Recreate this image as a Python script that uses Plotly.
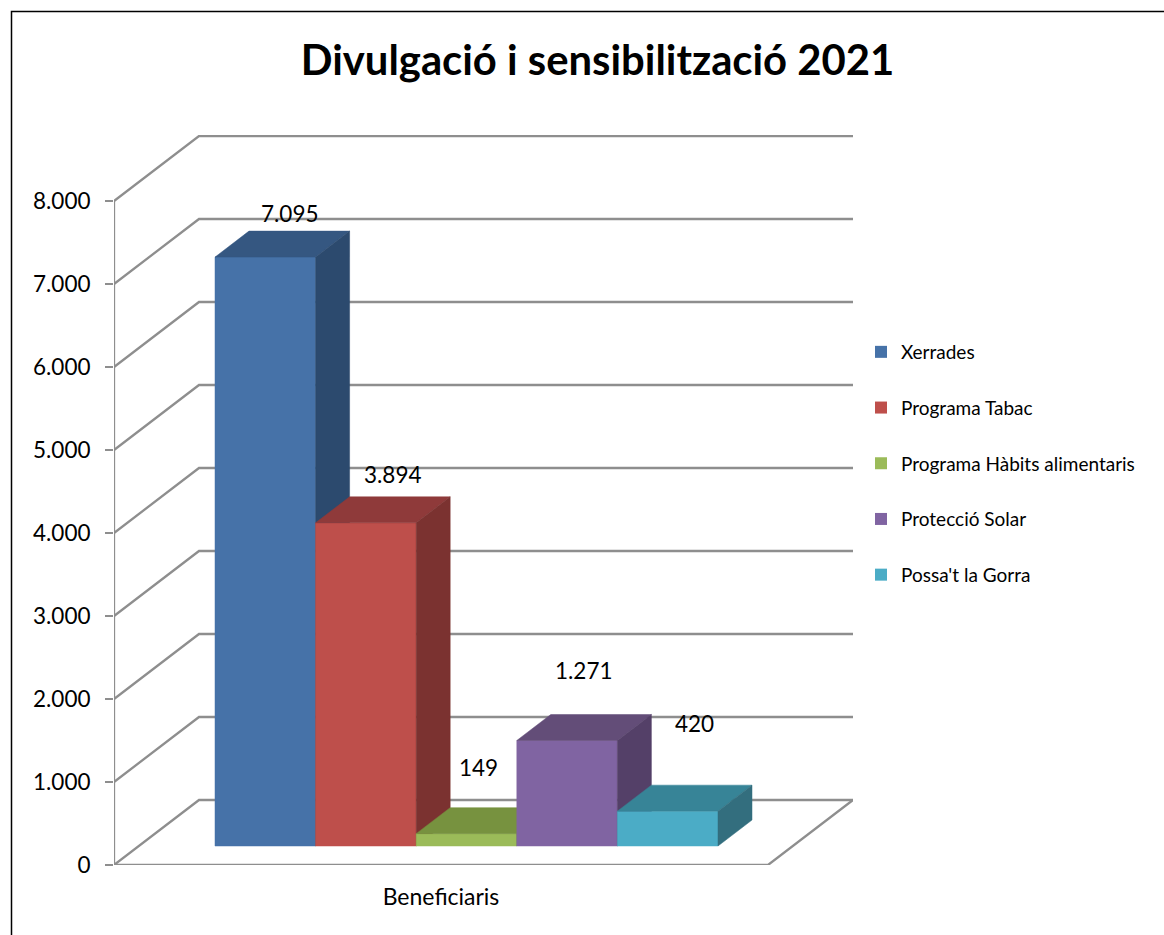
import plotly.graph_objects as go

# ---- data ----
title_text = "Divulgació i sensibilització 2021"
category = "Beneficiaris"
series_names = ["Xerrades", "Programa Tabac", "Programa Hàbits alimentaris", "Protecció Solar", "Possa't la Gorra"]
series_values = [7095, 3894, 149, 1271, 420]
value_labels = ["7.095", "3.894", "149", "1.271", "420"]
tick_values = [0, 1000, 2000, 3000, 4000, 5000, 6000, 7000, 8000]
tick_labels = ["0", "1.000", "2.000", "3.000", "4.000", "5.000", "6.000", "7.000", "8.000"]

# ---- style ----
front_colors = ["#4672A8", "#BE4F4B", "#9BBB59", "#8064A2", "#4BACC6"]
top_colors = ["#355781", "#8F3A3A", "#77923F", "#634D78", "#378497"]
side_colors = ["#2C4A6E", "#7B3230", "#66803A", "#544068", "#336E7E"]
label_shift = [(25, 44), (27, 48), (12, 66), (17, 70), (27, 88)]
GRID = "#8E8E8E"
FONT = "Lato"
W, H = 1164, 935
LEFT, RIGHT_PX, TOP, BOTTOM_PX = 114, 853, 135, 865
PX_PER_VALUE = 0.083
PX_PER_X = 100.6
y_max = (BOTTOM_PX - TOP) / PX_PER_VALUE
x_max = (RIGHT_PX - LEFT) / PX_PER_X
# oblique projection, in axis units
wall_dx, wall_dy = 85 / PX_PER_X, 65 / PX_PER_VALUE
bar_dx, bar_dy = 34 / PX_PER_X, 26 / PX_PER_VALUE
base_x, base_y = 101 / PX_PER_X, 19 / PX_PER_VALUE
floor_w = (768 - LEFT) / PX_PER_X

fig = go.Figure()


def poly(xs, ys, color):
    fig.add_trace(go.Scatter(x=xs, y=ys, mode="lines", fill="toself", fillcolor=color,
                             line=dict(color=color, width=0.5), showlegend=False, hoverinfo="skip"))


def line(xs, ys):
    fig.add_trace(go.Scatter(x=xs, y=ys, mode="lines", line=dict(color=GRID, width=2.3), cliponaxis=False,
                             showlegend=False, hoverinfo="skip"))


# walls and floor
for t in tick_values:
    line([0, wall_dx, x_max], [t, t + wall_dy, t + wall_dy])
line([0, 0], [0, tick_values[-1]])
line([0, floor_w, x_max], [0, 0, wall_dy])

# bars
for i, v in enumerate(series_values):
    x0, x1 = base_x + i, base_x + i + 1
    y0, y1 = base_y, base_y + v
    poly([x0, x1, x1, x0, x0], [y0, y0, y1, y1, y0], front_colors[i])
    poly([x0, x1, x1 + bar_dx, x0 + bar_dx, x0], [y1, y1, y1 + bar_dy, y1 + bar_dy, y1], top_colors[i])
    poly([x1, x1 + bar_dx, x1 + bar_dx, x1, x1], [y0, y0 + bar_dy, y1 + bar_dy, y1, y0], side_colors[i])
    fig.add_annotation(x=(x0 + x1) / 2, y=y1, text=value_labels[i], showarrow=False,
                       xshift=label_shift[i][0], yshift=label_shift[i][1], xanchor="center", yanchor="middle",
                       font=dict(family=FONT, size=22.5, color="#000000"))

# legend entries
for name, color in zip(series_names, front_colors):
    fig.add_trace(go.Scatter(x=[None], y=[None], mode="markers", name=name, legendgroup=name,
                             marker=dict(symbol="square", size=12, color=color)))

# chart border (left and top only, the right and bottom are cropped)
pw, ph = RIGHT_PX - LEFT, BOTTOM_PX - TOP
fig.add_shape(type="path", xref="paper", yref="paper",
              path=f"M {(11.5 - LEFT) / pw} {(BOTTOM_PX - 940) / ph} L {(11.5 - LEFT) / pw} {(BOTTOM_PX - 11.5) / ph} "
                   f"L {(W + 5 - LEFT) / pw} {(BOTTOM_PX - 11.5) / ph}",
              line=dict(color="#000000", width=1.5))

fig.update_layout(
    width=W, height=H, autosize=False,
    margin=dict(l=LEFT, r=W - RIGHT_PX, t=TOP, b=H - BOTTOM_PX, pad=0),
    paper_bgcolor="#FFFFFF", plot_bgcolor="#FFFFFF",
    title=dict(text=f"<b>{title_text}</b>", x=597.5 / W, xref="container", xanchor="center",
               y=1 - 60 / H, yref="container", yanchor="middle",
               font=dict(family=FONT, size=41.8, color="#000000")),
    xaxis=dict(range=[0, x_max], showgrid=False, zeroline=False, showline=False, ticks="",
               tickvals=[floor_w / 2], ticktext=[category], ticklabelstandoff=16,
               tickfont=dict(family=FONT, size=23, color="#000000"), fixedrange=True),
    yaxis=dict(range=[0, y_max], showgrid=False, zeroline=False, showline=False,
               tickvals=tick_values, ticktext=tick_labels, ticks="outside", ticklen=8, tickwidth=1.5,
               tickcolor=GRID, ticklabelstandoff=10,
               tickfont=dict(family=FONT, size=22.5, color="#000000"), fixedrange=True),
    legend=dict(x=(861 - LEFT) / pw, xref="paper", xanchor="left", y=(BOTTOM_PX - 333) / ph, yref="paper",
                yanchor="top", font=dict(family=FONT, size=19, color="#000000"),
                tracegroupgap=28, traceorder="grouped", bgcolor="rgba(0,0,0,0)", itemclick=False, itemdoubleclick=False),
)

fig.write_html("out.html", config=dict(displayModeBar=False),
               post_script="document.body.style.margin='0';document.body.style.overflow='hidden';")
